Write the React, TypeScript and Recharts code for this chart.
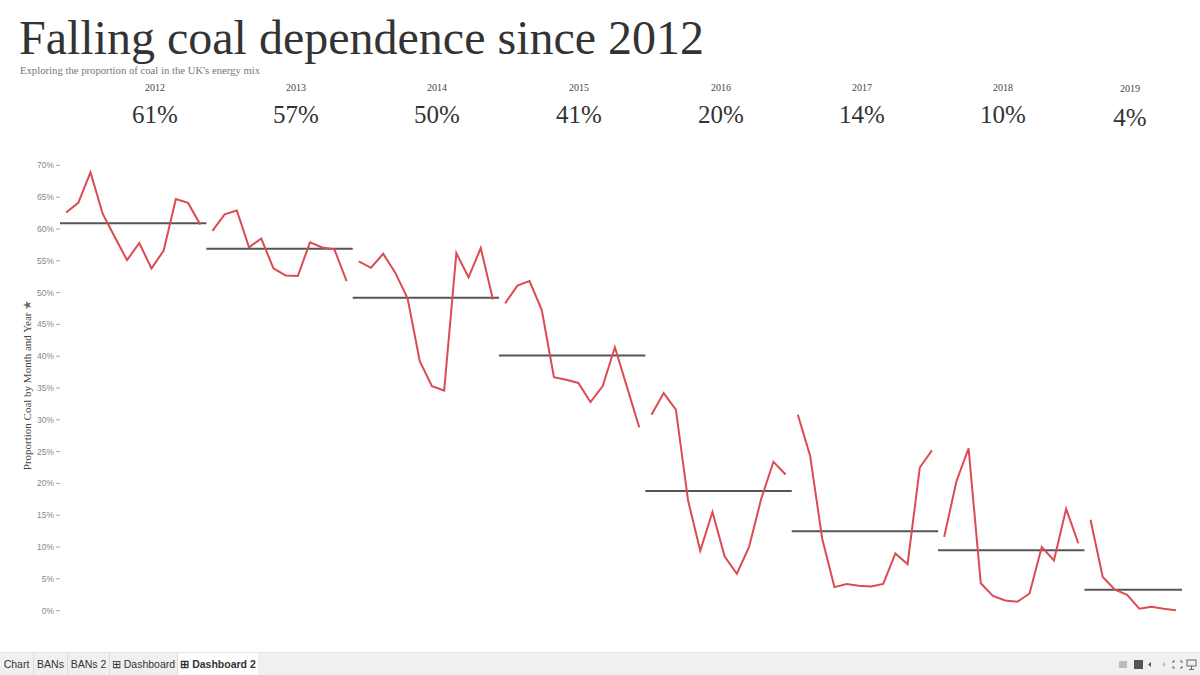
import React from 'react';
import { LineChart, Line, XAxis, YAxis, ReferenceLine } from 'recharts';

// ---------- data ----------
const years = [2012, 2013, 2014, 2015, 2016, 2017, 2018, 2019];

const coal2012 = [62.6, 64.1, 68.9, 62.4, 58.7, 55.1, 57.8, 53.8, 56.6, 64.7, 64.1, 60.7];
const coal2013 = [59.7, 62.3, 62.9, 57.1, 58.5, 53.8, 52.7, 52.6, 57.9, 57.1, 56.8, 51.8];
const coal2014 = [54.9, 53.9, 56.1, 53.1, 49.1, 39.2, 35.3, 34.6, 56.2, 52.4, 57.0, 48.9];
const coal2015 = [48.3, 51.1, 51.8, 47.3, 36.7, 36.3, 35.8, 32.8, 35.3, 41.4, 35.1, 28.8];
const coal2016 = [30.8, 34.2, 31.6, 17.3, 9.4, 15.5, 8.5, 5.8, 10.0, 17.6, 23.4, 21.4];
const coal2017 = [30.8, 24.4, 11.3, 3.7, 4.2, 3.9, 3.8, 4.2, 9.0, 7.3, 22.5, 25.2];
const coal2018 = [11.6, 20.3, 25.5, 4.3, 2.3, 1.6, 1.4, 2.7, 10.0, 7.9, 16.0, 10.6];
const coal2019 = [14.3, 5.3, 3.3, 2.5, 0.3, 0.6, 0.3, 0.05];

const yearAverages = [60.9, 56.9, 49.2, 40.1, 18.8, 12.5, 9.5, 3.3];
const banLabels = ['61%', '57%', '50%', '41%', '20%', '14%', '10%', '4%'];
const yTicks = [0, 5, 10, 15, 20, 25, 30, 35, 40, 45, 50, 55, 60, 65, 70];
const tabs = ['Chart', 'BANs', 'BANs 2', '⊞ Dashboard', '⊞ Dashboard 2'];

const seriesByYear = [coal2012, coal2013, coal2014, coal2015, coal2016, coal2017, coal2018, coal2019];

// ---------- build table ----------
type Row = { idx: number; [k: string]: number };
const rows: Row[] = [];
const yearRanges: { start: number; end: number }[] = [];
seriesByYear.forEach((vals, yi) => {
  const start = yi * 12;
  vals.forEach((v, m) => {
    rows.push({ idx: start + m, ['y' + years[yi]]: v } as Row);
  });
  yearRanges.push({ start, end: start + vals.length - 1 });
});

// ---------- layout / style ----------
const RED = '#dc4a52';
const AVG = '#555555';
const SERIF = '"Liberation Serif", "DejaVu Serif", serif';
const SANS = '"Liberation Sans", Arial, sans-serif';
const banCenters = [155, 296, 437, 579, 721, 862, 1003, 1130];

export default function App() {
  return (
    <div style={{ position: 'absolute', left: 0, top: 0, width: 1200, height: 675, background: '#fff', overflow: 'hidden' }}>
      <div style={{ position: 'absolute', left: 19, top: 8, fontFamily: SERIF, fontSize: 48, color: '#333', whiteSpace: 'nowrap', lineHeight: '60px' }}>
        Falling coal dependence since 2012
      </div>
      <div style={{ position: 'absolute', left: 20, top: 64, fontFamily: SERIF, fontSize: 10.7, color: '#777', whiteSpace: 'nowrap', lineHeight: '12px' }}>
        Exploring the proportion of coal in the UK's energy mix
      </div>
      {years.map((y, i) => (
        <React.Fragment key={y}>
          <div style={{ position: 'absolute', left: banCenters[i] - 40, width: 80, top: i === 7 ? 83 : 82, textAlign: 'center', fontFamily: SERIF, fontSize: 10, color: '#444', lineHeight: '12px' }}>
            {y}
          </div>
          <div style={{ position: 'absolute', left: banCenters[i] - 60, width: 120, top: i === 7 ? 104 : 101, textAlign: 'center', fontFamily: SERIF, fontSize: 25, color: '#333', lineHeight: '28px' }}>
            {banLabels[i]}
          </div>
        </React.Fragment>
      ))}
      <div style={{ position: 'absolute', left: 27, top: 385, transform: 'translate(-50%, -50%) rotate(-90deg)', fontFamily: SERIF, fontSize: 11, color: '#444', whiteSpace: 'nowrap', lineHeight: '12px' }}>
        Proportion Coal by Month and Year <span style={{ color: '#666' }}>★</span>
      </div>

      <div style={{ position: 'absolute', left: 0, top: 0 }}>
        <LineChart width={1200} height={675} data={rows} margin={{ top: 159, right: 18, bottom: 58, left: 0 }}>
          <XAxis type="number" dataKey="idx" domain={[-0.5, 91.5]} hide allowDataOverflow />
          <YAxis
            type="number"
            domain={[-1, 71]}
            ticks={yTicks}
            tickFormatter={(v: number) => `${v}%`}
            width={60}
            axisLine={false}
            tickLine={{ stroke: '#aaa' }}
            tickSize={4}
            tick={{ fill: '#888', fontSize: 8.5, fontFamily: SANS }}
            allowDataOverflow
            interval={0}
          />
          {yearRanges.map((r, i) => (
            <ReferenceLine
              key={'avg' + i}
              segment={[{ x: r.start - 0.5, y: yearAverages[i] }, { x: r.end + 0.5, y: yearAverages[i] }]}
              stroke={AVG}
              strokeWidth={2}
              ifOverflow="visible"
            />
          ))}
          {years.map((y) => (
            <Line
              key={y}
              type="linear"
              dataKey={'y' + y}
              stroke={RED}
              strokeWidth={2}
              dot={false}
              activeDot={false}
              connectNulls={false}
              isAnimationActive={false}
            />
          ))}
        </LineChart>
      </div>

      {/* bottom tab bar */}
      <div style={{ position: 'absolute', left: 0, top: 652, width: 1200, height: 23, background: '#f0f0f0', borderTop: '1px solid #e4e4e4' }}>
        {(() => {
          const lefts = [0, 34, 68, 110, 178];
          const widths = [34, 34, 42, 68, 80];
          return tabs.map((t, i) => {
            const sel = i === tabs.length - 1;
            return (
              <div key={t} style={{ position: 'absolute', left: lefts[i], top: 0, width: widths[i], height: 23, background: sel ? '#fff' : 'transparent', borderRight: sel ? 'none' : '1px solid #dcdcdc', boxSizing: 'border-box', fontFamily: SANS, fontSize: 10.5, color: '#333', fontWeight: sel ? 700 : 400, lineHeight: '22px', textAlign: 'center', whiteSpace: 'nowrap' }}>
                {t}
              </div>
            );
          });
        })()}
        <svg width={90} height={23} style={{ position: 'absolute', left: 1110, top: 0 }}>
          <rect x={9} y={8} width={8} height={7} fill="#bbb" />
          <rect x={24} y={7} width={9} height={9} fill="#555" />
          <path d="M41 9 L38 11.5 L41 14 Z" fill="#555" />
          <path d="M53 9 L56 11.5 L53 14 Z" fill="#bbb" />
          <path d="M65 8 h-2 v2 M70 8 h2 v2 M65 15 h-2 v-2 M70 15 h2 v-2" stroke="#666" fill="none" strokeWidth={1} />
          <rect x={77} y={7} width={9} height={6} fill="none" stroke="#666" strokeWidth={1} />
          <path d="M81.5 13 v3 M79 16.5 h5" stroke="#666" strokeWidth={1} />
        </svg>
      </div>
    </div>
  );
}
